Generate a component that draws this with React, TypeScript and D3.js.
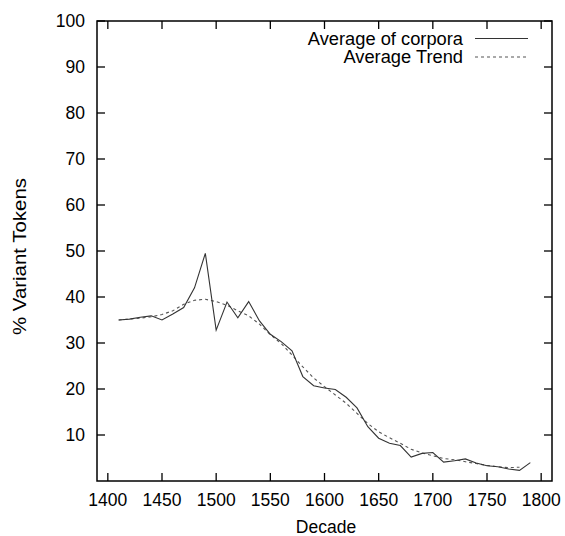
import React from "react";
import * as d3 from "d3";

const decades = [1410,1420,1430,1440,1450,1460,1470,1480,1490,1500,1510,1520,1530,1540,1550,1560,1570,1580,1590,1600,1610,1620,1630,1640,1650,1660,1670,1680,1690,1700,1710,1720,1730,1740,1750,1760,1770,1780,1790];
const averageCorpora = [35.0,35.2,35.6,35.9,35.0,36.3,37.7,42.0,49.5,32.8,38.9,35.5,39.0,34.8,31.9,30.3,28.3,22.7,20.7,20.2,19.9,18.2,15.9,11.8,9.3,8.2,7.7,5.2,6.0,6.2,4.1,4.4,4.8,3.9,3.3,3.1,2.6,2.3,4.0];
const trendDecades = [1410,1420,1430,1440,1450,1460,1470,1480,1490,1500,1510,1520,1530,1540,1550,1560,1570,1580,1590,1600,1610,1620,1630,1640,1650,1660,1670,1680,1690,1700,1710,1720,1730,1740,1750,1760,1770,1780];
const averageTrend = [35.0,35.2,35.4,35.7,36.2,37.0,38.4,39.3,39.5,39.0,38.2,37.0,35.9,34.1,31.8,29.9,27.4,24.8,22.4,20.5,18.7,16.9,14.7,12.5,10.7,9.4,8.2,6.9,6.1,5.5,4.9,4.6,4.2,3.8,3.4,3.1,2.9,3.0];
const xTicks = [1400,1450,1500,1550,1600,1650,1700,1750,1800];
const yTicks = [10,20,30,40,50,60,70,80,90,100];
const seriesNames = ["Average of corpora", "Average Trend"];

export default function App() {
  const W = 565, H = 536;
  const left = 97, right = 552, top = 21, bottom = 481;
  const x = d3.scaleLinear().domain([1390, 1810]).range([left, right]);
  const y = d3.scaleLinear().domain([0, 100]).range([bottom, top]);
  const line = d3.line<[number, number]>().x(d => x(d[0])).y(d => y(d[1]));
  const mainPath = line(decades.map((d, i) => [d, averageCorpora[i]]) as [number, number][]) || "";
  const trendPath = line(trendDecades.map((d, i) => [d, averageTrend[i]]) as [number, number][]) || "";
  const font = "'Liberation Sans', Arial, Helvetica, sans-serif";
  const fs = 17.5;
  const tl = 8;
  return (
    <svg width={W} height={H} style={{ position: "absolute", left: 0, top: 0, background: "#fff" }} fontFamily={font}>
      <rect x={0} y={0} width={W} height={H} fill="#fff" />
      {/* data */}
      <path d={trendPath} fill="none" stroke="#555" strokeWidth={1.1} strokeDasharray="3,3" />
      <path d={mainPath} fill="none" stroke="#333" strokeWidth={1.1} />
      {/* ticks */}
      {xTicks.map(t => (
        <g key={"x" + t}>
          <line x1={x(t)} x2={x(t)} y1={bottom} y2={bottom - tl} stroke="#000" strokeWidth={1.3} />
          <line x1={x(t)} x2={x(t)} y1={top} y2={top + tl} stroke="#000" strokeWidth={1.3} />
          <text x={x(t)} y={506} textAnchor="middle" fontSize={fs} fill="#000">{t}</text>
        </g>
      ))}
      {yTicks.map(t => (
        <g key={"y" + t}>
          <line x1={left} x2={left + tl} y1={y(t)} y2={y(t)} stroke="#000" strokeWidth={1.3} />
          <line x1={right} x2={right - tl} y1={y(t)} y2={y(t)} stroke="#000" strokeWidth={1.3} />
          <text x={85} y={y(t)} dy="0.36em" textAnchor="end" fontSize={fs} fill="#000">{t}</text>
        </g>
      ))}
      <rect x={left} y={top} width={right - left} height={bottom - top} fill="none" stroke="#000" strokeWidth={1.5} />
      {/* legend */}
      <text x={463} y={45} textAnchor="end" fontSize={18.3} fill="#000">{seriesNames[0]}</text>
      <line x1={475} x2={528} y1={38.5} y2={38.5} stroke="#333" strokeWidth={1.1} />
      <text x={463} y={63} textAnchor="end" fontSize={18.3} fill="#000">{seriesNames[1]}</text>
      <line x1={475} x2={528} y1={57} y2={57} stroke="#555" strokeWidth={1.1} strokeDasharray="3,3" />
      {/* axis titles */}
      <text x={326} y={532.5} textAnchor="middle" fontSize={17.5} fill="#000">Decade</text>
      <text transform="translate(25.5, 256.5) rotate(-90)" textAnchor="middle" fontSize={18} textLength={157} lengthAdjust="spacingAndGlyphs" fill="#000">% Variant Tokens</text>
    </svg>
  );
}
